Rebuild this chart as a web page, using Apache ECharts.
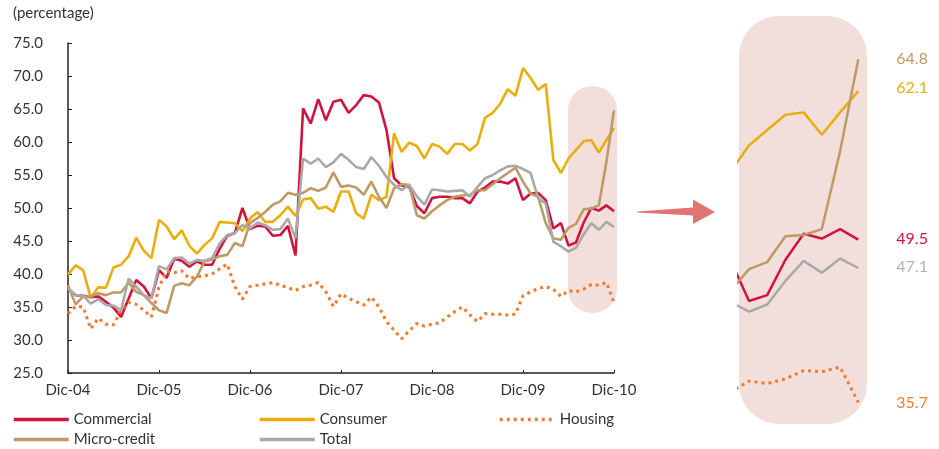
<!DOCTYPE html>
<html><head><meta charset="utf-8">
<script src="https://cdn.jsdelivr.net/npm/echarts@6/dist/echarts.min.js"></script>
<style>html,body{margin:0;padding:0;background:#fff}#c{width:939px;height:449px}</style>
</head><body><div id="c"></div>
<script>
// Month names used to build the monthly categories Dic-04 .. Dic-10
const monthNames = ['Ene','Feb','Mar','Abr','May','Jun','Jul','Ago','Sep','Oct','Nov','Dic'];
const categories = [];
for (let k = 0; k <= 72; k++) {
  const m = (11 + k) % 12, y = 4 + Math.floor((11 + k) / 12);
  categories.push(monthNames[m] + '-' + String(y).padStart(2, '0'));
}

const commercial = [37.8,36.8,36.7,36.5,36.6,35.8,34.9,33.5,36.3,39.1,
  38.1,36.3,40.6,39.4,42.3,42.0,41.1,41.9,41.4,41.4,
  43.8,45.8,46.2,50.0,46.8,47.3,47.2,45.8,45.9,47.3,
  42.8,65.1,62.8,66.5,63.3,66.1,66.4,64.4,65.6,67.1,
  66.9,66.0,61.8,54.5,53.4,53.2,50.3,49.2,51.5,51.7,
  51.7,51.5,51.5,50.7,52.5,53.1,54.0,54.0,53.7,54.5,
  51.2,52.2,52.3,51.2,46.9,47.7,44.3,44.8,47.8,50.0,
  49.6,50.4,49.5];
const consumer = [39.9,41.3,40.6,36.4,38.0,37.9,41.0,41.4,42.7,45.5,
  43.5,42.4,48.2,47.2,45.3,46.6,44.3,43.1,44.4,45.4,
  47.9,47.8,47.7,46.5,48.4,49.4,47.9,47.9,48.9,50.2,
  48.8,51.3,51.5,49.9,50.2,49.4,52.5,52.5,49.2,48.4,
  52.0,51.2,51.7,61.3,58.5,59.9,59.4,57.5,59.7,59.3,
  58.2,59.7,59.7,58.7,59.7,63.7,64.4,65.8,68.0,67.0,
  71.2,69.7,67.9,68.8,57.3,55.3,57.5,58.8,60.1,60.3,
  58.4,60.3,62.1];
const housing = [34.0,35.1,35.0,31.7,33.3,32.4,32.3,34.5,35.7,35.4,
  34.5,33.5,38.0,40.4,40.2,40.5,39.3,39.6,39.7,40.0,
  40.8,41.5,38.1,36.2,38.1,38.3,38.5,38.7,38.3,37.9,
  37.5,38.1,38.3,38.7,37.3,35.1,37.0,36.3,35.8,35.3,
  36.5,35.0,32.8,31.5,30.2,31.4,32.5,32.1,32.4,32.6,
  33.5,34.3,35.0,33.8,32.8,34.0,33.9,33.9,33.8,33.9,
  36.7,37.3,37.8,38.1,37.7,36.6,37.5,37.3,37.7,38.4,
  38.3,38.7,35.7];
const microcredit = [38.3,35.4,36.6,36.6,37.1,36.8,37.2,37.2,38.7,37.3,
  36.8,35.6,34.5,34.1,38.2,38.6,38.3,39.6,41.9,42.2,
  42.7,42.9,44.7,44.2,47.7,48.5,49.4,50.5,51.0,52.3,
  52.0,52.3,53.0,52.6,53.1,55.4,53.2,53.4,53.1,52.0,
  54.0,51.7,50.0,53.0,53.6,53.5,48.9,48.4,49.5,50.4,
  51.2,51.7,51.9,52.0,52.7,52.7,53.6,54.5,55.3,56.1,
  54.0,52.2,51.7,47.7,45.4,45.2,47.0,47.6,49.8,49.9,
  50.4,57.0,64.8];
const total = [37.8,36.8,36.7,35.5,36.2,35.3,35.2,34.5,39.3,38.1,
  36.8,36.3,41.2,40.7,42.4,42.5,41.6,42.1,42.0,42.4,
  44.6,45.9,46.2,47.4,46.9,47.8,47.4,46.7,46.8,48.4,
  45.4,57.5,56.7,57.5,56.2,56.9,58.2,57.3,56.2,55.9,
  57.7,56.4,54.7,53.5,52.7,53.5,51.8,50.5,52.8,52.7,
  52.5,52.6,52.7,51.7,53.2,54.5,55.0,55.7,56.3,56.4,
  55.9,55.3,51.5,50.7,44.9,44.2,43.4,44.0,46.0,47.7,
  46.7,47.9,47.1];

const seriesNames = ['Commercial','Consumer','Housing','Micro-credit','Total'];
const seriesData = [commercial, consumer, housing, microcredit, total];
const colors = ['#d3123e','#e9ae0b','#ef7c31','#bf9a66','#a9a9a9'];
const labelColors = ['#d3123e','#e9ae0b','#ef7c31','#bf9a66','#b3b3b3'];
const zoomFrom = 64;

const FONT = 'Lato';
const chart = echarts.init(document.getElementById('c'), null, {renderer: 'canvas'});

function lineStyleFor(i, w) {
  return i === 2 ? {color: colors[i], width: w + 0.5, type: [3, 4], cap: 'butt'} : {color: colors[i], width: w};
}

const series = [];
seriesData.forEach((d, i) => {
  series.push({
    name: seriesNames[i], type: 'line', xAxisIndex: 0, yAxisIndex: 0,
    data: d, symbol: 'none', z: 3, lineStyle: lineStyleFor(i, 2.6), itemStyle: {color: colors[i]}
  });
});
const labelOffsets = [[0, -1], [0, -3], [0, 0], [0, 0], [0, -1]];
seriesData.forEach((d, i) => {
  series.push({
    name: seriesNames[i] + '-zoom', type: 'line', xAxisIndex: 1, yAxisIndex: 1,
    data: d.slice(zoomFrom).map((v, j) => [zoomFrom + j, v]),
    symbol: 'none', z: 3, clip: true, lineStyle: lineStyleFor(i, 2.5), itemStyle: {color: colors[i]},
    endLabel: {show: true, distance: 38, offset: labelOffsets[i], color: labelColors[i],
      fontFamily: FONT, fontSize: 16, formatter: p => p.value[1].toFixed(1)}
  });
});

const legendPos = [[12, 412], [258, 412], [498, 412], [12, 432], [258, 432]];
const legends = seriesNames.map((n, i) => ({
  data: [n], left: legendPos[i][0], top: legendPos[i][1], padding: 0,
  itemWidth: 55, itemHeight: 14,
  itemStyle: {opacity: 0},
  lineStyle: {width: i === 2 ? 3.5 : 3.5},
  textStyle: {fontFamily: FONT, fontSize: 15, color: '#333'}
}));

chart.setOption({
  animation: false,
  backgroundColor: '#fff',
  legend: legends,
  grid: [
    {left: 68, top: 43, width: 546, height: 330, containLabel: false},
    {left: 739, top: 33.4, width: 119.3, height: 400.8, containLabel: false}
  ],
  xAxis: [
    {type: 'category', gridIndex: 0, data: categories, boundaryGap: false,
     axisLine: {lineStyle: {color: '#222', width: 1.5}},
     axisTick: {inside: true, length: 3, interval: 11, lineStyle: {color: '#222'}},
     axisLabel: {interval: 11, margin: 10, fontFamily: FONT, fontSize: 15, color: '#333'},
     splitLine: {show: false}},
    {type: 'value', gridIndex: 1, min: 65.45, max: 72, show: false}
  ],
  yAxis: [
    {type: 'value', gridIndex: 0, min: 25, max: 75, interval: 5,
     axisLine: {show: true, lineStyle: {color: '#222', width: 1.5}},
     axisTick: {show: true, inside: true, length: 4, lineStyle: {color: '#222'}},
     axisLabel: {margin: 25, fontFamily: FONT, fontSize: 15, color: '#333', formatter: v => v.toFixed(1)},
     splitLine: {show: false}},
    {type: 'value', gridIndex: 1, min: 33, max: 67, show: false, splitLine: {show: false}}
  ],
  graphic: [
    {type: 'rect', z: 1, shape: {x: 568, y: 86, width: 49, height: 227, r: 24}, style: {fill: '#f2dfdc'}},
    {type: 'rect', z: 1, shape: {x: 739, y: 16, width: 128, height: 408, r: 40}, style: {fill: '#f2dfdc'}},
    {type: 'polygon', z: 1, shape: {points: [[637, 211.4], [693, 207.5], [693, 199.5], [715, 212], [693, 224], [693, 215.5], [637, 212.6]]},
     style: {fill: '#e07573'}},
    {type: 'text', z: 5, left: 13, top: 6, style: {text: '(percentage)', fontFamily: FONT, fontSize: 15, fill: '#333'}}
  ],
  series: series
});
</script></body></html>
